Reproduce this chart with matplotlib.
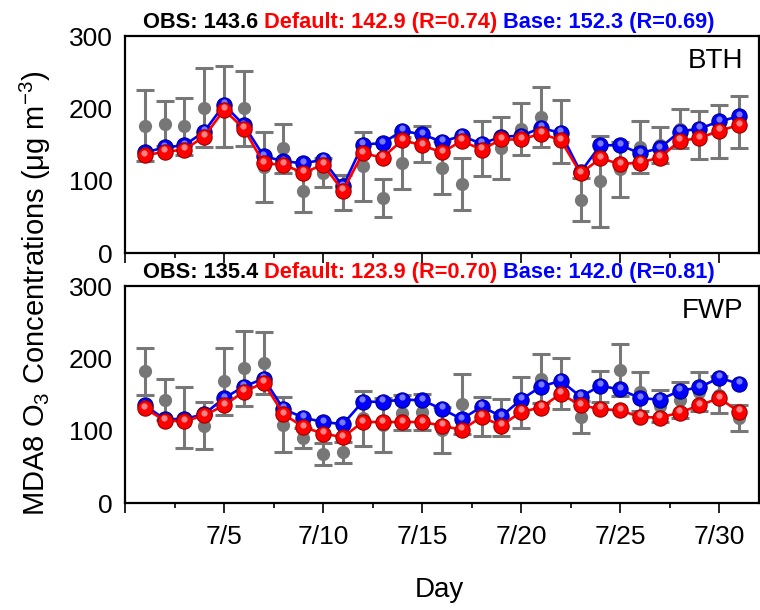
import numpy as np
import matplotlib
matplotlib.use('Agg')
import matplotlib.pyplot as plt
from matplotlib.transforms import offset_copy

plt.rcParams['font.family'] = ['Liberation Sans', 'DejaVu Sans']
plt.rcParams['mathtext.fontset'] = 'custom'
plt.rcParams['mathtext.rm'] = 'Liberation Sans'
plt.rcParams['mathtext.default'] = 'regular'

days = np.arange(1, 32)
tick_days = [0, 5, 10, 15, 20, 25, 30]
tick_labels = ['', '7/5', '7/10', '7/15', '7/20', '7/25', '7/30']

# BTH
bth_obs = [176, 179, 175, 201, 202, 200, 119, 145, 86, 111,
           84, 120, 76, 125, 151, 118, 96, 145, 145, 171,
           188, 168, 74, 99, 116, 146, 149, 172, 163, 168, 181]
bth_std = [49, 31, 40, 55, 56, 52, 48, 34, 29, 20,
           24, 48, 26, 36, 25, 37, 36, 38, 43, 36,
           42, 43, 30, 63, 38, 36, 25, 27, 33, 36, 36]
bth_default = [135, 140, 143, 161, 198, 172, 124, 122, 111, 122,
               86, 138, 132, 156, 149, 139, 155, 143, 157, 157,
               165, 156, 110, 131, 123, 125, 132, 155, 159, 169, 177]
bth_base = [139, 146, 149, 168, 205, 177, 134, 127, 124, 129,
            92, 150, 152, 169, 164, 154, 162, 151, 161, 162,
            173, 166, 112, 149, 149, 138, 145, 168, 172, 182, 189]

# FWP
fwp_obs = [182, 143, 118, 107, 168, 186, 194, 108, 90, 68,
           70, 117, 108, 125, 126, 101, 137, 120, 118, 139,
           172, 165, 119, 161, 184, 154, 134, 142, 154, 150, 117]
fwp_std = [33, 28, 42, 32, 46, 52, 43, 38, 14, 15,
           14, 38, 37, 24, 25, 32, 42, 27, 26, 35,
           34, 35, 22, 21, 36, 27, 22, 25, 27, 25, 18]
fwp_default = [131, 114, 113, 121, 135, 154, 166, 123, 105, 96,
               91, 112, 112, 112, 112, 107, 101, 119, 107, 126,
               132, 151, 135, 130, 128, 119, 118, 125, 135, 145, 126]
fwp_base = [135, 116, 116, 123, 145, 161, 172, 130, 118, 112,
            109, 140, 140, 143, 142, 130, 116, 133, 120, 143,
            161, 169, 147, 162, 157, 145, 143, 155, 160, 173, 165]

bth_stats = ['OBS: 143.6 ', 'Default: 142.9 (R=0.74) ', 'Base: 152.3 (R=0.69)']
fwp_stats = ['OBS: 135.4 ', 'Default: 123.9 (R=0.70) ', 'Base: 142.0 (R=0.81)']

fig = plt.figure(figsize=(7.6, 6.1), dpi=100)
ax1 = fig.add_axes([0.1645, 0.5852, 0.834, 0.3557])
ax2 = fig.add_axes([0.1645, 0.1754, 0.834, 0.3557])


def balls(ax, y, color, dark, light, z):
    ax.plot(days, y, '-', color=color, lw=1.9, zorder=z)
    ax.plot(days, y, 'o', ms=11, mfc=color, mec=dark, mew=0.8, zorder=z + 0.1)
    hl = offset_copy(ax.transData, fig=fig, x=-0.3, y=1.8, units='points')
    ax.plot(days, y, 'o', ms=4.5, mfc=light, mec='none', alpha=0.85,
            transform=hl, zorder=z + 0.2)


for ax, obs, std, dft, base, name, stats in [
        (ax1, bth_obs, bth_std, bth_default, bth_base, 'BTH', bth_stats),
        (ax2, fwp_obs, fwp_std, fwp_default, fwp_base, 'FWP', fwp_stats)]:
    ax.errorbar(days, obs, yerr=std, fmt='o', color='#777777', ms=8.5,
                elinewidth=2.2, capsize=6.5, capthick=2.2, zorder=2)
    balls(ax, base, '#0000ff', '#00008a', '#8f8fff', 3)
    balls(ax, dft, '#ff0000', '#9a0000', '#ff9a9a', 4)

    ax.set_xlim(0, 32)
    ax.set_ylim(0, 300)
    ax.set_yticks([0, 100, 200, 300])
    ax.set_xticks(tick_days)
    ax.set_xticks([2.5, 7.5, 12.5, 17.5, 22.5, 27.5], minor=True)
    ax.tick_params(axis='y', length=0, pad=9, labelsize=19)
    ax.tick_params(axis='x', which='major', direction='out', length=7,
                   width=1.2, labelsize=19, pad=9)
    ax.tick_params(axis='x', which='minor', direction='out', length=3.5,
                   width=1.2)
    for s in ax.spines.values():
        s.set_linewidth(1.6)
    ax.text(0.975, 0.885, name, transform=ax.transAxes, ha='right',
            va='center', fontsize=20)

    # coloured stats line above panel
    t = ax.text(0.028, 1.012, stats[0], transform=ax.transAxes, ha='left',
                va='bottom', fontsize=15.7, fontweight='bold', color='black')
    t = ax.annotate(stats[1], xy=(1, 0), xycoords=t, va='bottom',
                    fontsize=15.7, fontweight='bold', color='#ff0000')
    ax.annotate(stats[2], xy=(1, 0), xycoords=t, va='bottom',
                fontsize=15.7, fontweight='bold', color='#0000ff')

ax1.set_xticklabels([])
ax2.set_xticklabels(tick_labels)

fig.text(0.047, 0.52, 'MDA8 O$_3$ Concentrations (μg m$^{-3}$)',
         rotation=90, ha='center', va='center', fontsize=21)
fig.text(0.578, 0.033, 'Day', ha='center', va='center', fontsize=20)

fig.savefig('out.png', dpi=100)
